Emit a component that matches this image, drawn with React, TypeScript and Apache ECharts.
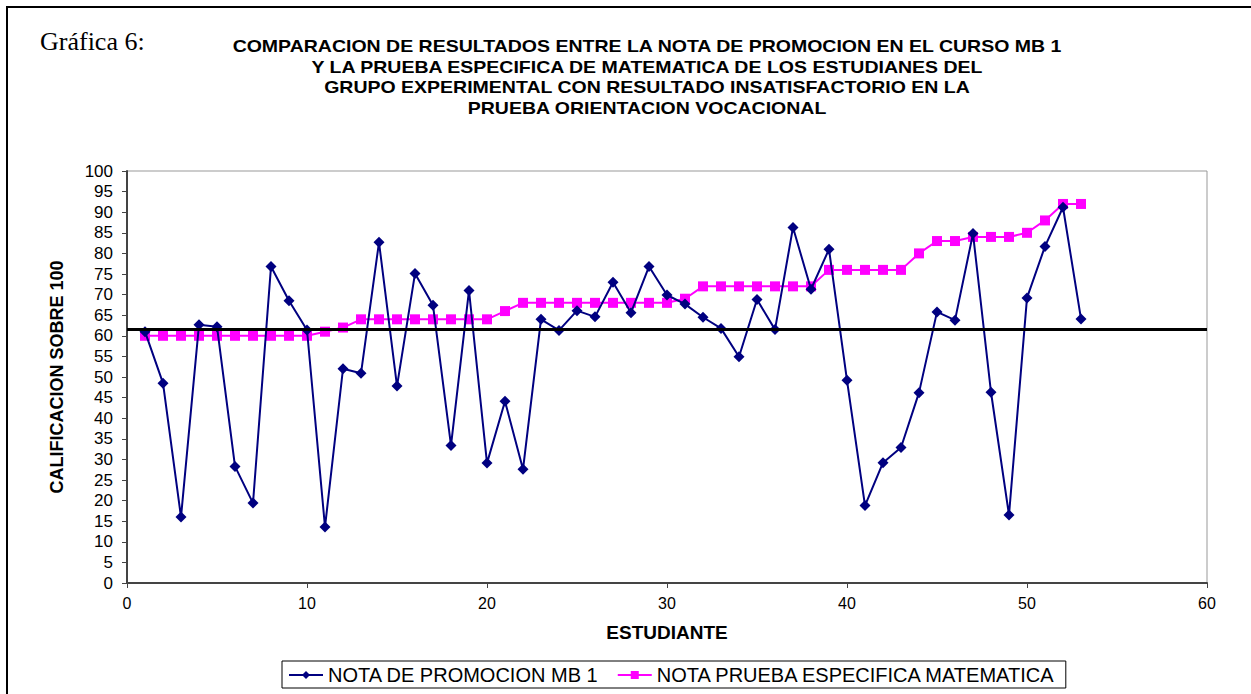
import React, { useEffect, useRef } from "react";
import * as echarts from "echarts";

const estudiantes = Array.from({ length: 53 }, (_, i) => i + 1);

const notaPromocion = [
  61, 48.5, 16, 62.7, 62.2, 28.3, 19.4, 76.8, 68.5, 61.4,
  13.6, 52, 50.9, 82.7, 47.8, 75.1, 67.4, 33.4, 71, 29.1,
  44.1, 27.6, 64, 61.3, 66.1, 64.6, 73, 65.6, 76.8, 69.9,
  67.7, 64.5, 61.8, 54.9, 68.8, 61.5, 86.3, 71.3, 81, 49.2,
  18.8, 29.2, 32.9, 46.2, 65.8, 63.8, 84.8, 46.3, 16.5, 69.2,
  81.7, 91.2, 64.1,
];

const notaPrueba = [
  60, 60, 60, 60, 60, 60, 60, 60, 60, 60,
  61, 62, 64, 64, 64, 64, 64, 64, 64, 64,
  66, 68, 68, 68, 68, 68, 68, 68, 68, 68,
  69, 72, 72, 72, 72, 72, 72, 72, 76, 76,
  76, 76, 76, 80, 83, 83, 84, 84, 84, 85,
  88, 92, 92,
];

const lineaReferencia = 61.5;

const titleLines = [
  "COMPARACION DE RESULTADOS ENTRE LA NOTA DE PROMOCION EN EL CURSO MB 1",
  "Y LA PRUEBA ESPECIFICA DE MATEMATICA DE LOS ESTUDIANES DEL",
  "GRUPO EXPERIMENTAL CON RESULTADO INSATISFACTORIO EN LA",
  "PRUEBA ORIENTACION VOCACIONAL",
];

const seriesNames = ["NOTA DE PROMOCION MB 1", "NOTA PRUEBA ESPECIFICA MATEMATICA"];

const SANS = "'Liberation Sans', Arial, Helvetica, sans-serif";

export default function App() {
  const ref = useRef<HTMLDivElement>(null);

  useEffect(() => {
    if (!ref.current) return;
    const chart = echarts.init(ref.current, undefined, { renderer: "svg" });
    const titleGraphics = titleLines.map((t, i) => ({
      type: "text",
      x: 647,
      y: 47 + i * 20.4,
      scaleX: 1.22,
      style: {
        text: t,
        fontFamily: SANS,
        fontSize: 16,
        fontWeight: "bold",
        fill: "#000",
        align: "center",
        verticalAlign: "middle",
      },
    }));
    const option: any = {
      animation: false,
      backgroundColor: "#ffffff",
      graphic: [
        {
          type: "line",
          shape: { x1: 7, y1: 6, x2: 7, y2: 694 },
          style: { stroke: "#000", lineWidth: 2 },
        },
        {
          type: "line",
          shape: { x1: 6, y1: 7, x2: 1251, y2: 7 },
          style: { stroke: "#000", lineWidth: 2 },
        },
        {
          type: "text",
          x: 40,
          y: 28,
          style: {
            text: "Gráfica 6:",
            fontFamily: "'Liberation Serif', 'Times New Roman', serif",
            fontSize: 26,
            fill: "#000",
          },
        },
        ...titleGraphics,
      ],
      grid: {
        left: 127,
        right: 44,
        top: 171,
        bottom: 111,
        show: true,
        borderColor: "#999",
        borderWidth: 1,
        backgroundColor: "#fff",
      },
      legend: {
        left: 282,
        top: 661,
        orient: "horizontal",
        itemGap: 18,
        itemWidth: 34,
        itemHeight: 10,
        borderColor: "#000",
        borderWidth: 1,
        padding: [4, 9, 3, 6],
        textStyle: { fontFamily: SANS, fontSize: 20, color: "#000" },
        data: seriesNames,
      },
      xAxis: {
        type: "value",
        min: 0,
        max: 60,
        interval: 10,
        name: "ESTUDIANTE",
        nameLocation: "middle",
        nameGap: 40,
        nameTextStyle: { fontFamily: SANS, fontSize: 19, fontWeight: "bold", color: "#000" },
        axisLine: { show: true, lineStyle: { color: "#444", width: 2 } },
        axisTick: { show: true, inside: false, length: 5, lineStyle: { color: "#444" } },
        axisLabel: { fontFamily: SANS, fontSize: 16, color: "#000", margin: 12 },
        splitLine: { show: false },
      },
      yAxis: {
        type: "value",
        min: 0,
        max: 100,
        interval: 5,
        name: "CALIFICACION SOBRE 100",
        nameLocation: "middle",
        nameGap: 61,
        nameRotate: 90,
        nameTextStyle: { fontFamily: SANS, fontSize: 18, fontWeight: "bold", color: "#000" },
        axisLine: { show: true, lineStyle: { color: "#444", width: 2 } },
        axisTick: { show: true, inside: false, length: 5, lineStyle: { color: "#444" } },
        axisLabel: { fontFamily: SANS, fontSize: 17, color: "#000", margin: 14 },
        splitLine: { show: false },
      },
      series: [
        {
          name: seriesNames[0],
          type: "line",
          data: estudiantes.map((e, i) => [e, notaPromocion[i]]),
          symbol: "diamond",
          symbolSize: 11,
          color: "#000080",
          lineStyle: { color: "#000080", width: 2 },
          itemStyle: { color: "#000080" },
          z: 3,
          markLine: {
            silent: true,
            symbol: "none",
            label: { show: false },
            lineStyle: { color: "#000", width: 3, type: "solid" },
            data: [{ yAxis: lineaReferencia }],
            z: 5,
          },
        },
        {
          name: seriesNames[1],
          type: "line",
          data: estudiantes.map((e, i) => [e, notaPrueba[i]]),
          symbol: "rect",
          symbolSize: 10,
          color: "#ff00ff",
          lineStyle: { color: "#ff00ff", width: 2 },
          itemStyle: { color: "#ff00ff" },
          z: 2,
        },
      ],
    };
    chart.setOption(option);
    return () => chart.dispose();
  }, []);

  return (
    <div
      ref={ref}
      style={{ position: "fixed", left: 0, top: 0, width: 1251, height: 694 }}
    />
  );
}
